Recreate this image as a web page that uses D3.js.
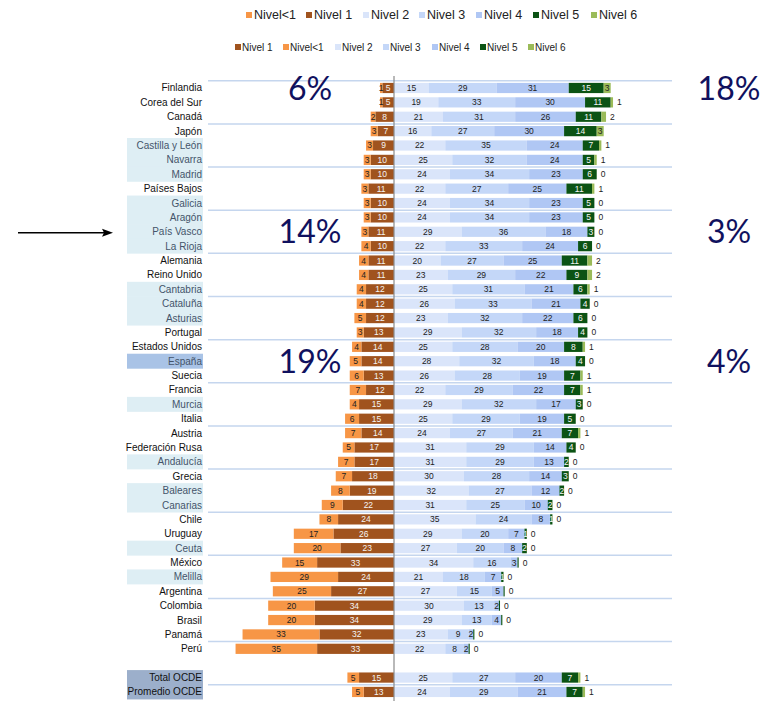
<!DOCTYPE html>
<html>
<head>
<meta charset="utf-8">
<script src="https://cdn.jsdelivr.net/npm/d3@7"></script>
<style>
  html, body { margin: 0; padding: 0; background: #fff; }
  svg { display: block; }
</style>
</head>
<body>
<svg id="chart" width="765" height="704"></svg>
<script>
// ---------------- DATA ----------------
const categories = [
  "Finlandia", "Corea del Sur", "Canadá", "Japón", "Castilla y León", "Navarra",
  "Madrid", "Países Bajos", "Galicia", "Aragón", "País Vasco", "La Rioja",
  "Alemania", "Reino Unido", "Cantabria", "Cataluña", "Asturias", "Portugal",
  "Estados Unidos", "España", "Suecia", "Francia", "Murcia", "Italia",
  "Austria", "Federación Rusa", "Andalucía", "Grecia", "Baleares", "Canarias",
  "Chile", "Uruguay", "Ceuta", "México", "Melilla", "Argentina",
  "Colombia", "Brasil", "Panamá", "Perú", "Total OCDE", "Promedio OCDE"
];
const nivelMenos1 = [1,1,2,3,3,3, 3,3,3,3,3,4, 4,4,4,4,5,3, 4,5,6,7,4,6, 7,5,7,7,8,9, 8,17,20,15,29,25, 20,20,33,35, 5,5];
const nivel1      = [5,5,8,7,9,10, 10,11,10,10,11,10, 11,11,12,12,12,13, 14,14,13,12,15,15, 14,17,17,18,19,22, 24,26,23,33,24,27, 34,34,32,33, 15,13];
const nivel2      = [15,19,21,16,22,25, 24,22,24,24,29,22, 20,23,25,26,23,29, 25,28,26,22,29,25, 24,31,31,30,32,31, 35,29,27,34,21,27, 30,29,23,22, 25,24];
const nivel3      = [29,33,31,27,35,32, 34,27,34,34,36,33, 27,29,31,33,32,32, 28,32,28,29,32,29, 27,29,29,28,27,25, 24,20,20,16,18,15, 13,13,9,8, 27,29];
const nivel4      = [31,30,26,30,24,24, 23,25,23,23,18,24, 25,22,21,21,22,18, 20,18,19,22,17,19, 21,14,13,14,12,10, 8,7,8,3,7,5, 2,4,2,2, 20,21];
const nivel5      = [15,11,11,14,7,5, 6,11,5,5,3,6, 11,9,6,4,6,4, 8,4,7,7,3,5, 7,4,2,3,2,2, 1,1,2,0.5,1,0.5, 0.5,0.5,0.5,0.5, 7,7];
const nivel6      = [3,1,2,3,1,1, 0,1,0,0,0,0, 2,2,1,0,0,0, 1,0,1,1,0,0, 1,0,0,0,0,0, 0,0,0,0,0,0, 0,0,0,0, 1,1];

const spanishRegions = ["Castilla y León","Navarra","Madrid","Galicia","Aragón","País Vasco","La Rioja",
  "Cantabria","Cataluña","Asturias","Murcia","Andalucía","Baleares","Canarias","Ceuta","Melilla"];
const spainLabel = "España";
const oecdLabels = ["Total OCDE", "Promedio OCDE"];

const levelNames = ["Nivel<1","Nivel 1","Nivel 2","Nivel 3","Nivel 4","Nivel 5","Nivel 6"];
const legend2Order = ["Nivel 1","Nivel<1","Nivel 2","Nivel 3","Nivel 4","Nivel 5","Nivel 6"];
const levelColors = ["#F79646","#A0531E","#DAE5FA","#C4D7F8","#B0C7F4","#0B5314","#9BBB59"];

const pctLeft  = [{row:"Finlandia", text:"6%"}, {row:"País Vasco", text:"14%"}, {row:"España", text:"19%"}];
const pctRight = [{row:"Finlandia", text:"18%"}, {row:"País Vasco", text:"3%"}, {row:"España", text:"4%"}];
const arrowRow = "País Vasco";

// ---------------- SCALES ----------------
const svg = d3.select("#chart");
const zeroX = 394, pxPer = 2.33;
const x = d3.scaleLinear().domain([-70, 100]).range([zeroX - 70*pxPer, zeroX + 100*pxPer]);
const slots = categories.slice(0, 40).concat(["__gap__"], categories.slice(40));
const yTop = 80.8, step = 14.38;
const y = d3.scaleBand().domain(slots).range([yTop, yTop + step*slots.length]).paddingInner(0.29).paddingOuter(0.145);
const cy = d => y(d) + y.bandwidth()/2;
const color = d3.scaleOrdinal().domain(levelNames).range(levelColors);

// ---------------- LEGENDS ----------------
const leg1X = [246, 306, 363, 419, 476, 533, 591];
const leg1 = svg.append("g").attr("font-family","Liberation Sans, Arial, sans-serif").attr("font-size", 12.5).attr("fill","#222");
levelNames.forEach((n, i) => {
  leg1.append("rect").attr("x", leg1X[i]).attr("y", 12).attr("width", 6).attr("height", 6).attr("fill", color(n));
  leg1.append("text").attr("x", leg1X[i] + 8).attr("y", 15).attr("dy","0.35em").text(n);
});
const leg2X = [235, 283, 335, 383, 432, 480, 528];
const leg2 = svg.append("g").attr("font-family","Liberation Sans, Arial, sans-serif").attr("font-size", 10).attr("fill","#222");
legend2Order.forEach((n, i) => {
  leg2.append("rect").attr("x", leg2X[i]).attr("y", 44).attr("width", 6).attr("height", 6).attr("fill", color(n));
  leg2.append("text").attr("x", leg2X[i] + 7).attr("y", 47).attr("dy","0.35em").text(n);
});

// ---------------- LABEL HIGHLIGHTS ----------------
const hl = svg.append("g");
categories.forEach(c => {
  let fill = null;
  if (spanishRegions.includes(c)) fill = "#DEEEF4";
  else if (c === spainLabel) fill = "#A9C3E6";
  else if (oecdLabels.includes(c)) fill = "#9CAFCB";
  if (fill) hl.append("rect").attr("x", 127).attr("y", y(c) - y.step()*y.paddingInner()/2 - 0.3)
      .attr("width", 76).attr("height", y.step() + 0.6).attr("fill", fill);
});

// ---------------- GRIDLINES ----------------
const grid = svg.append("g");
for (let k = 0; k <= 14; k++) {
  const gy = yTop + k*3*step;
  grid.append("line").attr("x1", 208).attr("x2", 672).attr("y1", gy).attr("y2", gy)
    .attr("stroke", "#C5D6EE").attr("stroke-width", 1.5);
}

// ---------------- CATEGORY LABELS ----------------
svg.append("g").attr("font-family","Liberation Sans, Arial, sans-serif").attr("font-size", 10)
  .selectAll("text").data(categories).join("text")
  .attr("x", 202).attr("y", d => cy(d)).attr("dy","0.35em").attr("text-anchor","end")
  .attr("fill", d => (spanishRegions.includes(d) || d === spainLabel) ? "#44546A" : "#111")
  .text(d => d);

// ---------------- BARS ----------------
const rows = categories.map((c, i) => ({
  cat: c,
  vals: [nivelMenos1[i], nivel1[i], nivel2[i], nivel3[i], nivel4[i], nivel5[i], nivel6[i]]
}));
const segs = [];
rows.forEach(r => {
  const l1 = r.vals[1], l0 = r.vals[0];
  segs.push({cat: r.cat, lvl: 1, v: l1, x0: -l1, x1: 0});
  segs.push({cat: r.cat, lvl: 0, v: l0, x0: -l1 - l0, x1: -l1});
  let acc = 0;
  for (let k = 2; k <= 6; k++) {
    segs.push({cat: r.cat, lvl: k, v: r.vals[k], x0: acc, x1: acc + r.vals[k]});
    acc += r.vals[k];
  }
});
const barG = svg.append("g");
barG.selectAll("rect").data(segs.filter(s => s.v > 0)).join("rect")
  .attr("x", s => x(s.x0)).attr("width", s => x(s.x1) - x(s.x0))
  .attr("y", s => y(s.cat)).attr("height", y.bandwidth())
  .attr("fill", s => color(levelNames[s.lvl]));

// zero axis line
svg.append("line").attr("x1", zeroX).attr("x2", zeroX).attr("y1", 76).attr("y2", 701)
  .attr("stroke", "#8a8a8a").attr("stroke-width", 1.2);

// segment labels
const lblG = svg.append("g").attr("font-family","Liberation Sans, Arial, sans-serif").attr("font-size", 8.5);
segs.forEach(s => {
  if (s.lvl === 6) {
    if (s.v >= 3) {
      lblG.append("text").attr("x", (x(s.x0)+x(s.x1))/2).attr("y", cy(s.cat)).attr("dy","0.35em")
        .attr("text-anchor","middle").attr("fill","#222").text(s.v);
    } else {
      lblG.append("text").attr("x", x(s.x1) + 4).attr("y", cy(s.cat)).attr("dy","0.35em")
        .attr("text-anchor","start").attr("fill","#222").text(s.v);
    }
    return;
  }
  if (s.v < 1) return;
  const white = (s.lvl === 1 || s.lvl === 5);
  lblG.append("text").attr("x", (x(s.x0)+x(s.x1))/2).attr("y", cy(s.cat)).attr("dy","0.35em")
    .attr("text-anchor","middle").attr("fill", white ? "#f4f4f4" : "#222").text(s.v);
});

// ---------------- PERCENT ANNOTATIONS ----------------
const pctG = svg.append("g").attr("font-family","Lato, 'Open Sans', sans-serif").attr("font-weight", 400)
  .attr("font-size", 32).attr("fill", "#10115E");
pctLeft.forEach(p => pctG.append("text").attr("x", 310).attr("y", cy(p.row)).attr("dy","0.36em").attr("text-anchor","middle").text(p.text));
pctRight.forEach(p => pctG.append("text").attr("x", 729).attr("y", cy(p.row)).attr("dy","0.36em").attr("text-anchor","middle").text(p.text));

// ---------------- ARROW ----------------
const ay = cy(arrowRow) + 1;
svg.append("line").attr("x1", 18).attr("x2", 104).attr("y1", ay).attr("y2", ay).attr("stroke", "#000").attr("stroke-width", 1.5);
svg.append("path").attr("d", `M113,${ay} L102,${ay-4} L104,${ay} L102,${ay+4} Z`).attr("fill", "#000");
</script>
</body>
</html>
